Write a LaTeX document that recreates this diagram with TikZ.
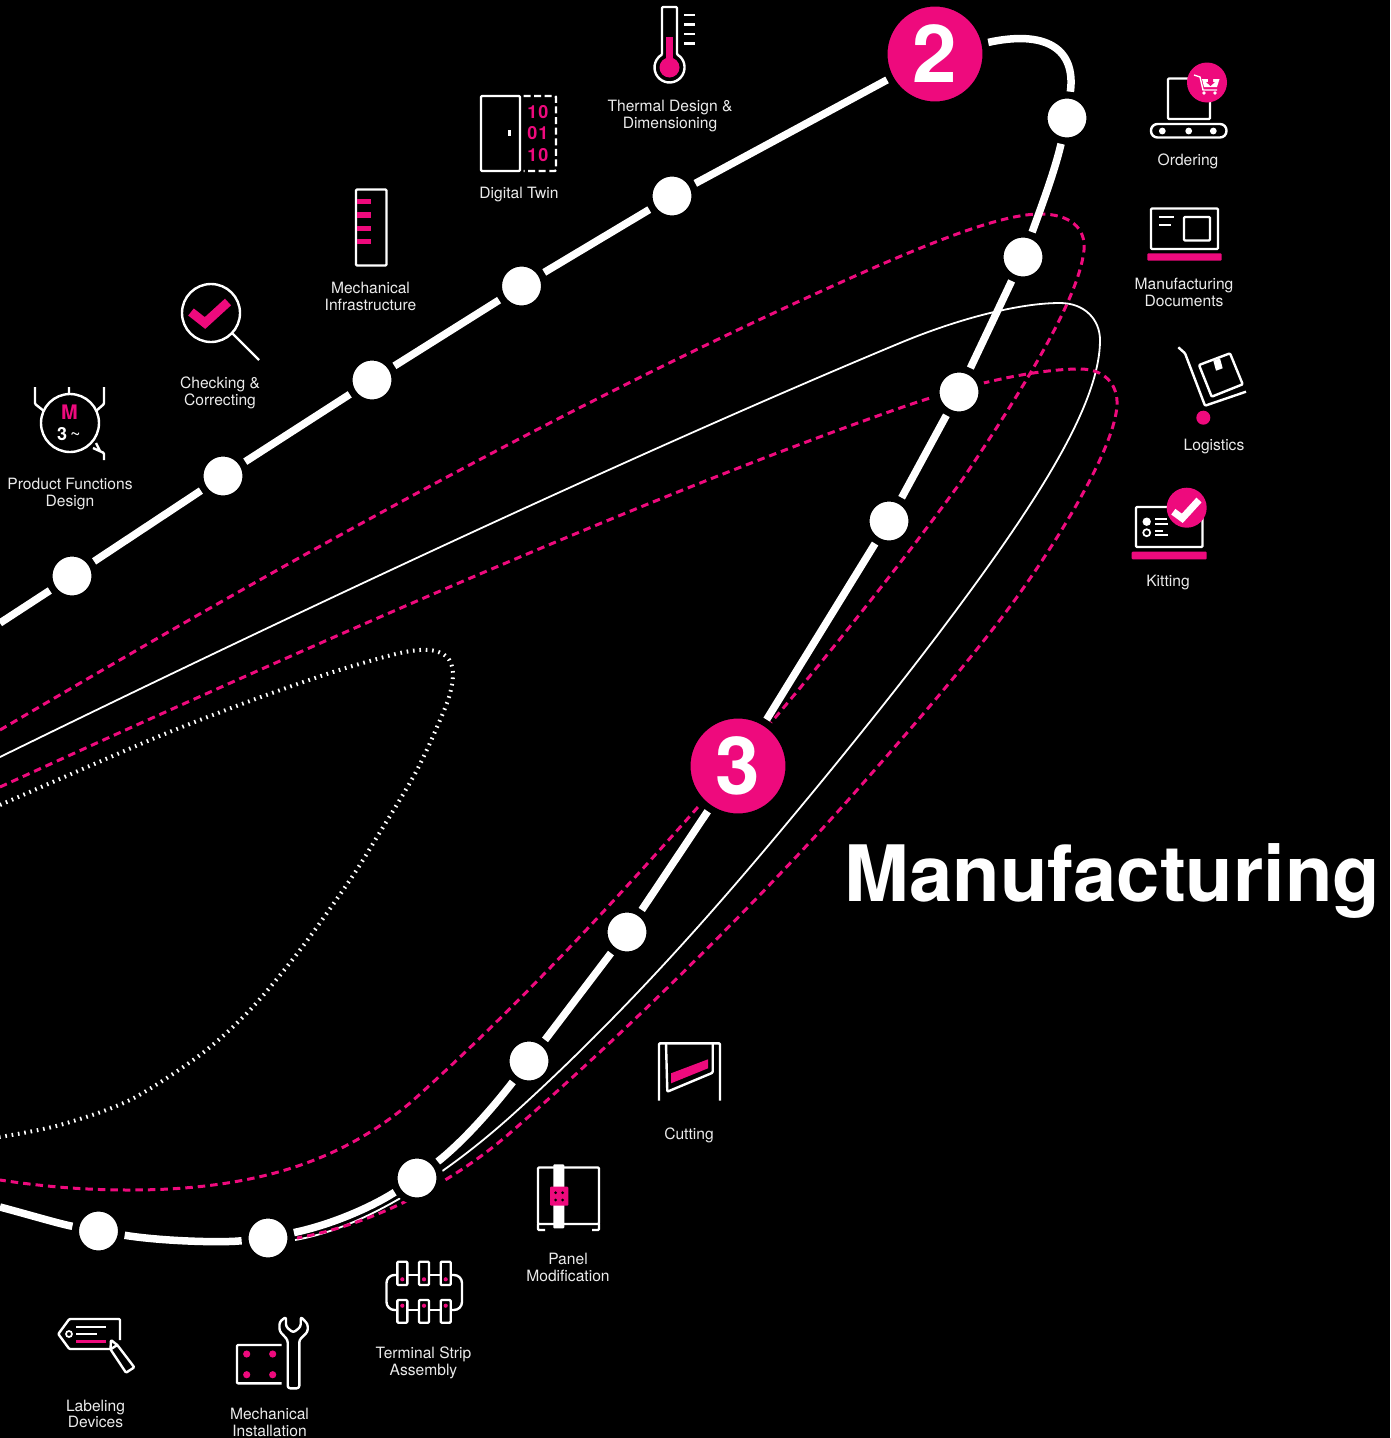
\documentclass[tikz,border=0pt]{standalone}
\usepackage{fontspec}
\setmainfont{TeX Gyre Heros}
\definecolor{hotPink}{RGB}{238,10,125}
\tikzset{
    styleStop/.style={circle, fill=white, draw=black, line width=7pt, inner sep=0pt, minimum size=46pt}, % white stop with a black halo
    styleNumber/.style={circle, fill=hotPink, draw=black, line width=7pt, inner sep=0pt, minimum size=102pt, text=white, font=\bfseries\fontsize{80}{80}\selectfont},
    styleRoute/.style={draw=white, line width=7.5pt}, % the thick route
    styleLabel/.style={align=center, text=white!92!black, inner sep=0pt, font=\fontsize{15.6}{16.6}\selectfont},
    styleIcon/.style={draw=white, line width=2.4pt, line join=round, rounded corners=1pt},
    styleIconThin/.style={draw=white, line width=1.7pt},
    styleBits/.style={inner sep=0pt, text=hotPink, font=\bfseries\fontsize{18}{18}\selectfont},
    styleDashLoop/.style={draw=hotPink, line width=3pt, dash pattern=on 7.5pt off 5pt},
    styleThinLoop/.style={draw=white, line width=1.8pt},
    styleDotLoop/.style={draw=white, line width=4pt, dash pattern=on 1.6pt off 4.8pt},
}
\begin{document}
\begin{tikzpicture}[x=1pt, y=-1pt]
    \fill[black] (0,0) rectangle (1390,1438);
    \useasboundingbox (0,0) rectangle (1390,1438);

    % loops behind the route
    \draw[styleDotLoop] plot[smooth, tension=0.5] coordinates {(0,805) (85,768) (167,733) (250,701) (333,672) (400,653) (430,650) (447,657) (453,673) (447,703) (417,770) (377,837) (350,880) (300,950) (250,1010) (200,1055) (130,1100) (60,1125) (0,1137)};
    \draw[styleDashLoop] (0,730) .. controls (250,583) and (560,405) .. (880,265)
    .. controls (945,237) and (1005,214) .. (1040,214)
    .. controls (1070,214) and (1086,228) .. (1084,250)
    .. controls (1080,290) and (1040,365) .. (960,483)
    .. controls (915,545) and (860,615) .. (800,688)
    .. controls (765,730) and (735,765) .. (698,807)
    .. controls (620,895) and (520,1005) .. (410,1103)
    .. controls (350,1153) and (270,1190) .. (130,1190)
    .. controls (80,1190) and (40,1186) .. (0,1180);
    \draw[styleThinLoop] (0,757) .. controls (300,610) and (650,447) .. (900,343)
    .. controls (960,318) and (1020,303) .. (1060,303)
    .. controls (1085,303) and (1100,320) .. (1100,340)
    .. controls (1100,400) and (1045,490) .. (960,605)
    .. controls (915,666) and (860,735) .. (808,798)
    .. controls (740,880) and (640,1000) .. (510,1117)
    .. controls (445,1175) and (365,1228) .. (295,1240);
    \draw[styleDashLoop] (0,787) .. controls (300,650) and (650,495) .. (900,408)
    .. controls (960,387) and (1030,369) .. (1080,369)
    .. controls (1105,369) and (1118,385) .. (1117,405)
    .. controls (1115,445) and (1065,530) .. (1017,597)
    .. controls (975,655) and (910,730) .. (850,798)
    .. controls (770,888) and (640,1020) .. (510,1133)
    .. controls (450,1185) and (370,1225) .. (297,1238);

    % stops
    \coordinate (routeIn) at (0,623);
    \coordinate (routeOut) at (0,1207);
    \node[styleStop] (stopProduct) at (72,576) {};
    \node[styleStop] (stopCheck) at (223,476) {};
    \node[styleStop] (stopInfra) at (372,380) {};
    \node[styleStop] (stopTwin) at (521.5,286) {};
    \node[styleStop] (stopThermal) at (672,196) {};
    \node[styleNumber] (numTwo) at (935,54) {2};
    \node[styleStop] (stopOrder) at (1067,118) {};
    \node[styleStop] (stopDocs) at (1023,257) {};
    \node[styleStop] (stopLogi) at (959,392) {};
    \node[styleStop] (stopKit) at (889,521) {};
    \node[styleNumber] (numThree) at (738,766) {3};
    \node[styleStop] (stopCut) at (627,932) {};
    \node[styleStop] (stopPanel) at (529,1061) {};
    \node[styleStop] (stopTerm) at (417,1178) {};
    \node[styleStop] (stopMech) at (268,1238) {};
    \node[styleStop] (stopTag) at (98.5,1231) {};

    % route
    \draw[styleRoute]
    (routeIn) -- (stopProduct)
    (stopProduct) -- (stopCheck)
    (stopCheck) -- (stopInfra)
    (stopInfra) -- (stopTwin)
    (stopTwin) -- (stopThermal)
    (stopThermal) -- (numTwo)
    (numTwo) .. controls (1045,30) and (1076,48) .. (stopOrder)
    (stopOrder) .. controls (1055,170) and (1042,205) .. (stopDocs)
    (stopDocs) -- (stopLogi)
    (stopLogi) -- (stopKit)
    (stopKit) -- (numThree)
    (numThree) -- (stopCut)
    (stopCut) -- (stopPanel)
    (stopPanel) .. controls (495,1105) and (465,1140) .. (stopTerm)
    (stopTerm) .. controls (370,1208) and (330,1225) .. (stopMech)
    (stopMech) .. controls (220,1243) and (160,1241) .. (stopTag)
    (stopTag) .. controls (60,1224) and (30,1215) .. (routeOut);

    % labels
    \node[styleLabel] (lblProduct) at (70,494) {Product Functions\\Design};
    \node[styleLabel] (lblCheck) at (220,393) {Checking \&\\Correcting};
    \node[styleLabel] (lblInfra) at (370.5,296.5) {Mechanical\\Infrastructure};
    \node[styleLabel] (lblTwin) at (519,195) {Digital Twin};
    \node[styleLabel] (lblThermal) at (670,116) {Thermal Design \&\\Dimensioning};
    \node[styleLabel] (lblOrder) at (1188,161) {Ordering};
    \node[styleLabel] (lblDocs) at (1184,292.5) {Manufacturing\\Documents};
    \node[styleLabel] (lblLogi) at (1214,447) {Logistics};
    \node[styleLabel] (lblKit) at (1168,583) {Kitting};
    \node[styleLabel] (lblCut) at (689,1135) {Cutting};
    \node[styleLabel] (lblPanel) at (568,1267.5) {Panel\\Modification};
    \node[styleLabel] (lblTerm) at (423.5,1363) {Terminal Strip\\Assembly};
    \node[styleLabel] (lblMech) at (269.5,1422.5) {Mechanical\\Installation};
    \node[styleLabel] (lblTag) at (95.5,1414) {Labeling\\Devices};
    \node[text=white, inner sep=0pt, font=\bfseries\fontsize{77.8}{78}\selectfont] (title) at (1112.5,881) {Manufacturing};

    % motor icon
    \draw[styleIcon] (70,423) circle (29);
    \draw[styleIcon] (35,387) -- (35,404) -- (44,411) (104,387) -- (104,404) -- (96,411) (69,387) -- (69,394);
    \draw[styleIcon] (93,448) -- (104,453) -- (104,460) (96,443) -- (100,451);
    \node[inner sep=0pt, text=hotPink, font=\bfseries\fontsize{20}{20}\selectfont] (motorM) at (69.5,412) {M};
    \node[inner sep=0pt, text=white, font=\fontsize{18}{18}\selectfont] (motorThree) at (69,434) {\textbf{3}\,\textasciitilde};

    % magnifier icon
    \draw[styleIcon] (211,313) circle (29) (232,333) -- (259,360);
    \draw[draw=hotPink, line width=9pt] (191,312) -- (205,323) -- (228,302);

    % cabinet icon
    \draw[styleIcon] (356,189.5) rectangle (386.5,265.5);
    \foreach \barY in {201.7,215,228.3,241.7} {
        \fill[hotPink] (357,\barY-2.7) rectangle (371,\barY+2.7);
    }

    % digital twin icon
    \draw[styleIcon] (481,96) rectangle (520,171);
    \draw[styleIcon] (509.5,130) -- (509.5,136);
    \draw[styleIcon, dash pattern=on 7pt off 3.6pt] (523.5,96) -- (556,96) -- (556,171) -- (523.5,171);
    \node[styleBits] (twinA) at (538,112) {1\kern1pt 0};
    \node[styleBits] (twinB) at (538,133.5) {0\kern1pt 1};
    \node[styleBits] (twinC) at (538,155) {1\kern1pt 0};

    % thermometer icon
    \draw[styleIcon] (662,54.5) -- (662,7) -- (677,7) -- (677,54.5) arc[start angle=-60, end angle=240, radius=15];
    \fill[hotPink] (669.5,67.5) circle (10);
    \fill[hotPink] (666,36.5) rectangle (673.3,62);
    \foreach \tickY in {15,24.3,33.7,43.3} {
        \draw[styleIcon] (684,\tickY) -- (695.3,\tickY);
    }

    % ordering icon
    \draw[styleIcon] (1168,78.5) rectangle (1210,119);
    \draw[styleIcon, rounded corners=6.5pt] (1151,124) rectangle (1226.5,137.5);
    \foreach \dotX in {1162.3,1188.7,1213.3} {
        \fill[white] (\dotX,131) circle (3.4);
    }
    \fill[hotPink] (1207,82.5) circle (20);
    \draw[draw=white, line width=1.4pt] (1194,75) -- (1200,77) -- (1203,90) -- (1217,90);
    \fill[white] (1202,79) -- (1219.5,79) -- (1217,87) -- (1204,87) -- cycle;
    \fill[hotPink] (1208,79) -- (1213,79) -- (1213,82) -- (1215,82) -- (1210.5,86) -- (1206,82) -- (1208,82) -- cycle;
    \fill[white] (1204,93) circle (1.8) (1215,93) circle (1.8);

    % documents icon
    \draw[styleIcon] (1151,208.5) rectangle (1218,249);
    \draw[styleIcon] (1184,217) rectangle (1210,240.5);
    \draw[styleIcon] (1159,216.7) -- (1174,216.7) (1159,224.7) -- (1170.7,224.7);
    \fill[hotPink, rounded corners=1pt] (1147.3,253.3) rectangle (1221.7,260.7);

    % trolley icon
    \draw[styleIcon] (1178.3,347.3) -- (1185,353.3) -- (1205,405.7) -- (1246,391.7);
    \draw[styleIcon] (1199,365) -- (1230,353.3) -- (1242.7,384.3) -- (1211.7,396.7) -- cycle;
    \fill[white] (1213.3,360.7) -- (1220,358.3) -- (1222.7,368.3) -- (1216,370.7) -- cycle;
    \fill[hotPink] (1203.3,417.7) circle (7);

    % kitting icon
    \draw[styleIcon] (1136,507) rectangle (1202.5,547);
    \fill[white] (1146.7,521.7) circle (4.2);
    \draw[styleIconThin] (1146.7,532.7) circle (3.5);
    \draw[styleIconThin] (1155,519.3) -- (1167,519.3) (1155,523.7) -- (1168,523.7) (1155,530.7) -- (1163,530.7) (1155,534.7) -- (1168,534.7);
    \fill[hotPink] (1186.7,507.7) circle (20);
    \draw[draw=white, line width=7pt] (1173.3,511.7) -- (1182.3,518.3) -- (1199,500);
    \fill[hotPink, rounded corners=1pt] (1131.7,551.7) rectangle (1206.7,559.3);

    % cutting icon
    \draw[styleIcon] (659,1100.7) -- (659,1043.3) -- (720,1043.3) -- (720,1100.7);
    \draw[styleIcon] (666,1043.3) -- (667.3,1091.7) -- (712.7,1072.7) -- (712.7,1043.3);
    \fill[hotPink] (671,1073.3) -- (708,1059.3) -- (708,1068.3) -- (671,1083.3) -- cycle;

    % panel icon
    \draw[styleIcon] (538,1224) -- (538,1167.5) -- (599,1167.5) -- (599,1224) -- cycle;
    \draw[styleIcon] (538,1224) -- (538,1230) -- (545,1230) (599,1224) -- (599,1230) -- (592,1230);
    \fill[white, rounded corners=1pt] (553.3,1164.3) rectangle (564.3,1228.3);
    \fill[hotPink, rounded corners=1pt] (550,1186.7) rectangle (568.3,1205.7);
    \fill[black] (555.7,1192.7) circle (1.5) (562.7,1192.7) circle (1.5) (555.7,1200) circle (1.5) (562.7,1200) circle (1.5);

    % terminal strip icon
    \foreach \stripX in {397.3,419,440.7} {
        \draw[styleIcon] (\stripX,1261.7) rectangle (\stripX+10,1285);
        \draw[styleIcon] (\stripX,1300) rectangle (\stripX+10,1322.7);
        \fill[hotPink] (\stripX+5,1279.3) circle (2.1) (\stripX+5,1305.7) circle (2.1);
    }
    \draw[styleIcon, rounded corners=8pt] (397.3,1275) -- (386.5,1275) -- (386.5,1310) -- (397.3,1310);
    \draw[styleIcon, rounded corners=8pt] (450.7,1275) -- (462,1275) -- (462,1310) -- (450.7,1310);
    \draw[styleIcon] (407.3,1275) -- (419,1275) (429,1275) -- (440.7,1275) (407.3,1310) -- (419,1310) (429,1310) -- (440.7,1310);

    % wrench icon
    \draw[styleIcon] (281.7,1345) -- (237,1345) -- (237,1383.3) -- (281.7,1383.3);
    \fill[hotPink] (246.7,1354) circle (3.6) (272.7,1354) circle (3.6) (246.7,1374.7) circle (3.6) (272.7,1374.7) circle (3.6);
    \draw[styleIcon, rounded corners=2.5pt] (287.7,1340) -- (287.7,1388.3) -- (299.3,1388.3) -- (299.3,1340) -- (307.7,1331.7) -- (307.7,1324) -- (300.7,1316.7) -- (300.7,1326.7) -- (293.3,1332.7) -- (286,1326.7) -- (286,1316.7) -- (279.5,1322) -- (279.5,1331) -- cycle;

    % tag icon
    \draw[styleIcon] (110,1349) -- (69.3,1349) -- (58.3,1334) -- (69.3,1319) -- (120,1319) -- (120,1340);
    \draw[styleIconThin] (69,1334) circle (3);
    \draw[styleIcon] (76,1326.7) -- (106,1326.7) (76,1334) -- (96.7,1334);
    \draw[draw=hotPink, line width=2.4pt] (76,1341.3) -- (106,1341.3);
    \draw[styleIcon, fill=black] (111,1340) -- (117.3,1345) -- (134.3,1367.3) -- (126,1372.7) -- (110.5,1349.3) -- cycle;
    \draw[styleIcon] (110.5,1349.3) -- (117.3,1345);
\end{tikzpicture}
\end{document}
